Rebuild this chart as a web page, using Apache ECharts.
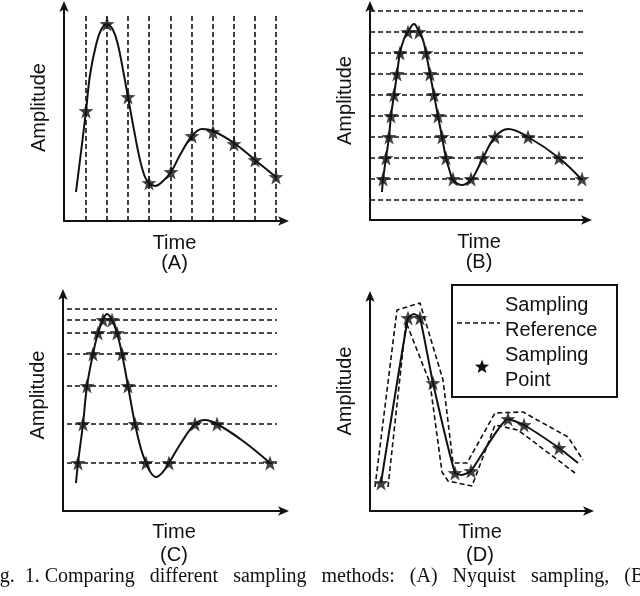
<!DOCTYPE html>
<html>
<head>
<meta charset="utf-8">
<script src="https://cdn.jsdelivr.net/npm/echarts@6/dist/echarts.min.js"></script>
<style>
  html, body { margin: 0; padding: 0; background: #fff; }
  #chart { width: 640px; height: 596px; }
</style>
</head>
<body>
<div id="chart"></div>
<script>
// axis units are arbitrary (time / amplitude)

// (A) Nyquist sampling: fixed sampling instants
const samplingTimesA = [22, 43, 64, 85, 107, 128, 149, 170, 191, 212];
const curveA = [[12, 29], [16, 61], [22, 110], [26, 146], [32, 176], [37, 191], [43, 197], [49, 191],
    [54, 176], [59, 151], [64, 124], [70, 91], [76, 61], [81, 44], [85, 38], [91, 35], [98, 39],
    [107, 49], [116, 66], [128, 85], [138, 92], [149, 90], [170, 78], [191, 61], [212, 44]];
const starsA = [[22, 110], [43, 197], [64, 124], [85, 38], [107, 49], [128, 85], [149, 89],
    [170, 77], [191, 61], [212, 44]];

// (B) uniform level crossing
const levelsB = [20, 41, 62, 83, 104, 125, 146, 167, 188, 209];
const curveB = [[12, 28], [13, 40], [16, 62], [19, 83], [21, 104], [24, 125], [27, 146], [30, 167],
    [34, 181], [38, 188], [44, 196], [49, 188], [53, 180], [56, 167], [60, 146], [64, 125],
    [68, 104], [72, 83], [76, 62], [80, 48], [83, 40], [92, 35], [101, 40], [107, 50], [113, 62],
    [125, 83], [138, 91], [158, 83], [189, 62], [212, 40]];
const starsB = [[13, 41], [16, 62], [19, 83], [21, 104], [24, 125], [27, 146], [30, 167], [38, 188],
    [49, 188], [56, 167], [60, 146], [64, 125], [68, 104], [72, 83], [76, 62], [83, 41],
    [101, 41], [113, 62], [125, 83], [158, 83], [189, 62], [212, 41]];

// (C) non-uniform level crossing
const levelsC = [48, 87, 125, 157, 178, 191, 202];
const curveC = [[13, 28], [15, 48], [20, 87], [24, 125], [30, 157], [35, 178], [40, 191], [44, 197],
    [49, 191], [54, 178], [59, 157], [65, 125], [72, 87], [78, 62], [83, 48], [88, 38], [93, 34],
    [99, 38], [106, 48], [118, 68], [132, 87], [142, 91], [154, 87], [180, 70], [207, 48]];
const starsC = [[15, 48], [20, 87], [24, 125], [30, 157], [35, 178], [40, 191], [49, 191], [54, 178],
    [59, 157], [65, 125], [72, 87], [83, 48], [106, 48], [132, 87], [154, 87], [207, 48]];

// (D) adaptive sampling with a reference band
const curveD = [[11, 28], [38, 193], [44, 197], [50, 193], [63, 128], [85, 38], [92, 36], [101, 40],
    [138, 92], [154, 86], [189, 63], [208, 48]];
const starsD = [[11, 28], [38, 193], [50, 193], [63, 128], [85, 38], [101, 40], [138, 92],
    [154, 86], [189, 63]];
const bandUpperD = [[5, 24], [27, 201], [50, 208], [73, 131], [83, 48], [97, 48], [125, 98],
    [153, 99], [198, 74], [213, 51]];
const bandLowerD = [[18, 24], [36, 189], [60, 128], [72, 39], [78, 30], [102, 25], [125, 86],
    [148, 81], [205, 38]];

const panelLabels = ['(A)', '(B)', '(C)', '(D)'];

const STAR = 'path://M0,-10L2.35,-3.24L9.51,-3.09L3.8,1.24L5.88,8.09L0,4L-5.88,8.09L-3.8,1.24L-9.51,-3.09L-2.35,-3.24Z';
const FONT = 'Liberation Sans, Arial, sans-serif';

const grids = [
    { left: 64, top: 5, width: 221, height: 216 },
    { left: 370, top: 5, width: 218, height: 215 },
    { left: 63, top: 293, width: 222, height: 218 },
    { left: 370, top: 295, width: 220, height: 216 }
];
const namePad = [11, 24, 14, 24];
const labelGap = [20, 20, 23, 23];

// five-pointed star outline for the legend icon
function starPoints(cx, cy, r) {
    const pts = [];
    for (let k = 0; k < 10; k++) {
        const a = -Math.PI / 2 + k * Math.PI / 5;
        const rr = k % 2 ? r * 0.42 : r;
        pts.push([cx + rr * Math.cos(a), cy + rr * Math.sin(a)]);
    }
    return pts;
}

const chart = echarts.init(document.getElementById('chart'));

const axisLine = {
    show: true,
    symbol: ['none', 'arrow'],
    symbolSize: [7, 11],
    symbolOffset: [0, 4],
    lineStyle: { color: '#111', width: 2 }
};

const xAxis = grids.map((g, i) => ({
    type: 'value', gridIndex: i, min: 0, max: g.width,
    axisLine: axisLine, axisTick: { show: false }, axisLabel: { show: false }, splitLine: { show: false },
    name: 'Time\n' + panelLabels[i], nameLocation: 'middle', nameGap: i < 2 ? 12 : 10,
    nameTextStyle: { fontFamily: FONT, fontSize: 20, color: '#111', lineHeight: labelGap[i], verticalAlign: 'top' }
}));

const yAxis = grids.map((g, i) => ({
    type: 'value', gridIndex: i, min: 0, max: g.height,
    axisLine: axisLine, axisTick: { show: false }, axisLabel: { show: false }, splitLine: { show: false },
    name: 'Amplitude', nameLocation: 'middle', nameGap: 15, nameRotate: 90,
    nameTextStyle: { fontFamily: FONT, fontSize: 20, color: '#111', padding: [0, 0, 0, namePad[i]] }
}));

const dashed = { color: '#111', width: 1.6, type: [5, 3] };

function curveSeries(i, data, smooth) {
    return {
        type: 'line', xAxisIndex: i, yAxisIndex: i, data: data, smooth: smooth,
        symbol: 'none', lineStyle: { color: '#111', width: 2 }, z: 3, silent: true
    };
}
function starSeries(i, data) {
    return {
        type: 'scatter', xAxisIndex: i, yAxisIndex: i, data: data,
        symbol: STAR, symbolSize: 15, itemStyle: { color: '#111' }, z: 4, silent: true
    };
}
function refLines(i, pairs) {
    return {
        type: 'line', xAxisIndex: i, yAxisIndex: i, data: [], silent: true,
        markLine: { symbol: 'none', silent: true, label: { show: false }, lineStyle: dashed, data: pairs }
    };
}

const series = [
    refLines(0, samplingTimesA.map(t => [{ coord: [t, 0] }, { coord: [t, 207] }])),
    curveSeries(0, curveA, 0.4),
    starSeries(0, starsA),

    refLines(1, levelsB.map(v => [{ coord: [0, v] }, { coord: [213, v] }])),
    curveSeries(1, curveB, 0.4),
    starSeries(1, starsB),

    refLines(2, levelsC.map(v => [{ coord: [4, v] }, { coord: [214, v] }])),
    curveSeries(2, curveC, 0.4),
    starSeries(2, starsC),

    { type: 'line', xAxisIndex: 3, yAxisIndex: 3, data: bandUpperD, symbol: 'none', lineStyle: dashed, silent: true },
    { type: 'line', xAxisIndex: 3, yAxisIndex: 3, data: bandLowerD, symbol: 'none', lineStyle: dashed, silent: true },
    curveSeries(3, curveD, 0.15),
    starSeries(3, starsD)
];

chart.setOption({
    animation: false,
    backgroundColor: '#fff',
    grid: grids,
    xAxis: xAxis,
    yAxis: yAxis,
    series: series,
    graphic: [
        // legend box of panel D
        { type: 'rect', shape: { x: 452, y: 285, width: 165, height: 112 },
          style: { fill: '#fff', stroke: '#111', lineWidth: 2 }, z: 10 },
        { type: 'line', shape: { x1: 457, y1: 323, x2: 500, y2: 323 },
          style: { stroke: '#111', lineWidth: 1.6, lineDash: [5, 3] }, z: 11 },
        { type: 'polygon', shape: { points: starPoints(482, 367, 7.5) },
          style: { fill: '#111' }, z: 11 },
        { type: 'text', x: 505, y: 293, z: 11,
          style: { text: 'Sampling\nReference\nSampling\nPoint', font: '20px ' + FONT, fill: '#111', lineHeight: 25 } },
        // figure caption, cropped at both edges (justified spacing)
        { type: 'text', x: -17, y: 567, z: 11,
          style: { text: 'Fig.  1. Comparing   different   sampling   methods:   (A)   Nyquist   sampling,   (B)   level-crossing',
                   font: '20px Liberation Serif, Times New Roman, serif', fill: '#111' } }
    ]
});
</script>
</body>
</html>
